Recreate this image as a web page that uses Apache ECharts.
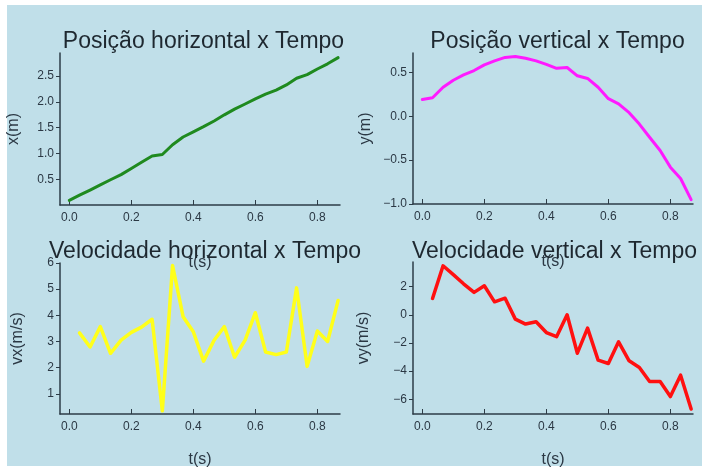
<!DOCTYPE html>
<html>
<head>
<meta charset="utf-8">
<script src="https://cdn.jsdelivr.net/npm/echarts@6/dist/echarts.min.js"></script>
<style>
html,body{margin:0;padding:0;background:#ffffff;}
#c{width:702px;height:470px;}
</style>
</head>
<body>
<div id="c"></div>
<script>
// ---- data ----
const tPos = [0.000,0.033,0.067,0.100,0.133,0.167,0.200,0.233,0.267,0.300,0.333,0.367,0.400,0.433,0.467,0.500,0.533,0.567,0.600,0.633,0.667,0.700,0.733,0.767,0.800,0.833,0.867];
const xPos = [0.09,0.19,0.29,0.39,0.49,0.59,0.71,0.83,0.95,0.98,1.17,1.32,1.42,1.52,1.63,1.75,1.86,1.96,2.06,2.15,2.23,2.33,2.46,2.53,2.64,2.74,2.86];
const yPos = [0.19,0.21,0.33,0.41,0.47,0.52,0.585,0.63,0.67,0.68,0.66,0.63,0.59,0.545,0.555,0.46,0.43,0.33,0.20,0.14,0.04,-0.09,-0.24,-0.39,-0.58,-0.71,-0.95];
const tVel = [0.033,0.067,0.100,0.133,0.167,0.200,0.233,0.267,0.300,0.333,0.367,0.400,0.433,0.467,0.500,0.533,0.567,0.600,0.633,0.667,0.700,0.733,0.767,0.800,0.833,0.867];
const vx = [3.33,2.79,3.57,2.55,3.05,3.35,3.55,3.85,0.35,5.9,3.95,3.37,2.25,3.05,3.57,2.4,3.05,4.1,2.6,2.5,2.6,5.05,2.05,3.4,3.0,4.57];
const vy = [1.16,3.48,2.85,2.2,1.59,2.06,0.92,1.18,-0.31,-0.66,-0.5,-1.26,-1.56,0.0,-2.73,-0.95,-3.22,-3.46,-1.92,-3.27,-3.74,-4.74,-4.74,-5.81,-4.29,-6.7];

// tick labels
const tTicks = [0, 0.2, 0.4, 0.6, 0.8];
const xTicks = [0.5, 1.0, 1.5, 2.0, 2.5];
const yTicks = [-1.0, -0.5, 0.0, 0.5];
const vxTicks = [1, 2, 3, 4, 5, 6];
const vyTicks = [-6, -4, -2, 0, 2];

const titles = ['Posição horizontal x Tempo','Posição vertical x Tempo','Velocidade horizontal x Tempo','Velocidade vertical x Tempo'];
const yNames = ['x(m)','y(m)','vx(m/s)','vy(m/s)'];
const tName = 't(s)';

// ---- styling ----
const FONT = '"Liberation Sans", Arial, sans-serif';
const TXT = '#2b3844';
const AX = '#2d3c47';

const grids = [
  {left:60, top:53, width:280, height:152},
  {left:413, top:53, width:280, height:151},
  {left:60, top:263, width:280, height:151},
  {left:413, top:262, width:280, height:152}
];
const yRanges = [[0, 2.95], [-1.0, 0.72], [0.23, 6.0], [-7.05, 3.75]];
const yTickSets = [xTicks, yTicks, vxTicks, vyTicks];
const yDec = [1, 1, 0, 0];
const yGaps = [38, 39, 34, 41];
const tGaps = [50, 50, 38, 38];

function fmt(v, d){ const s = Math.abs(v).toFixed(d); return (v < 0 ? '\u2212' : '') + s; }

const xAxes = grids.map((g,i)=>({
  type:'value', gridIndex:i, min:-0.03, max:0.873,
  name:tName, nameLocation:'middle', nameGap:tGaps[i],
  nameTextStyle:{fontSize:16, color:TXT, fontFamily:FONT},
  axisLine:{show:true, onZero:false, lineStyle:{color:AX, width:1.5}},
  axisTick:{show:true, inside:true, length:5, customValues:tTicks, lineStyle:{color:AX, width:1}},
  axisLabel:{customValues:tTicks, formatter:v=>fmt(v,1), margin:7, fontSize:12, color:TXT, fontFamily:FONT},
  splitLine:{show:false}
}));
const yAxes = grids.map((g,i)=>({
  type:'value', gridIndex:i, min:yRanges[i][0], max:yRanges[i][1],
  name:yNames[i], nameLocation:'middle', nameGap:yGaps[i],
  nameTextStyle:{fontSize:16, color:TXT, fontFamily:FONT},
  axisLine:{show:true, onZero:false, lineStyle:{color:AX, width:1.5}},
  axisTick:{show:true, inside:false, length:4, customValues:yTickSets[i], lineStyle:{color:AX, width:1}},
  axisLabel:{customValues:yTickSets[i], formatter:v=>fmt(v,yDec[i]), margin:6, fontSize:12, color:TXT, fontFamily:FONT},
  splitLine:{show:false}
}));

function pairs(ts, vs){ return ts.map((t,k)=>[t, vs[k]]); }
const seriesDefs = [
  {data:pairs(tPos,xPos), color:'#1f8a1f', w:3},
  {data:pairs(tPos,yPos), color:'#ff1aff', w:3},
  {data:pairs(tVel,vx), color:'#ffff1a', w:3.5},
  {data:pairs(tVel,vy), color:'#ff1010', w:3.5}
];

const titleCenters = [[203.5,41.5],[557.5,41.5],[205,252],[554.5,252]];

const chart = echarts.init(document.getElementById('c'), null, {renderer:'canvas'});
chart.setOption({
  backgroundColor:'#ffffff',
  animation:false,
  grid: grids.map(g=>Object.assign({containLabel:false}, g)),
  xAxis: xAxes,
  yAxis: yAxes,
  series: seriesDefs.map((s,i)=>({
    type:'line', xAxisIndex:i, yAxisIndex:i, data:s.data, showSymbol:false, symbol:'none',
    lineStyle:{color:s.color, width:s.w, join:'round', cap:'round'}, itemStyle:{color:s.color}
  })),
  graphic: [
    {type:'rect', z:-10, silent:true, shape:{x:7, y:5, width:695, height:461}, style:{fill:'#c0dfe9'}}
  ].concat(titles.map((tx,i)=>({
    type:'text', z:100, x:titleCenters[i][0], y:titleCenters[i][1],
    style:{text:tx, fontSize:23, fontFamily:FONT, fill:'#1e2830', textAlign:'center', textVerticalAlign:'middle'}
  })))
});
</script>
</body>
</html>
